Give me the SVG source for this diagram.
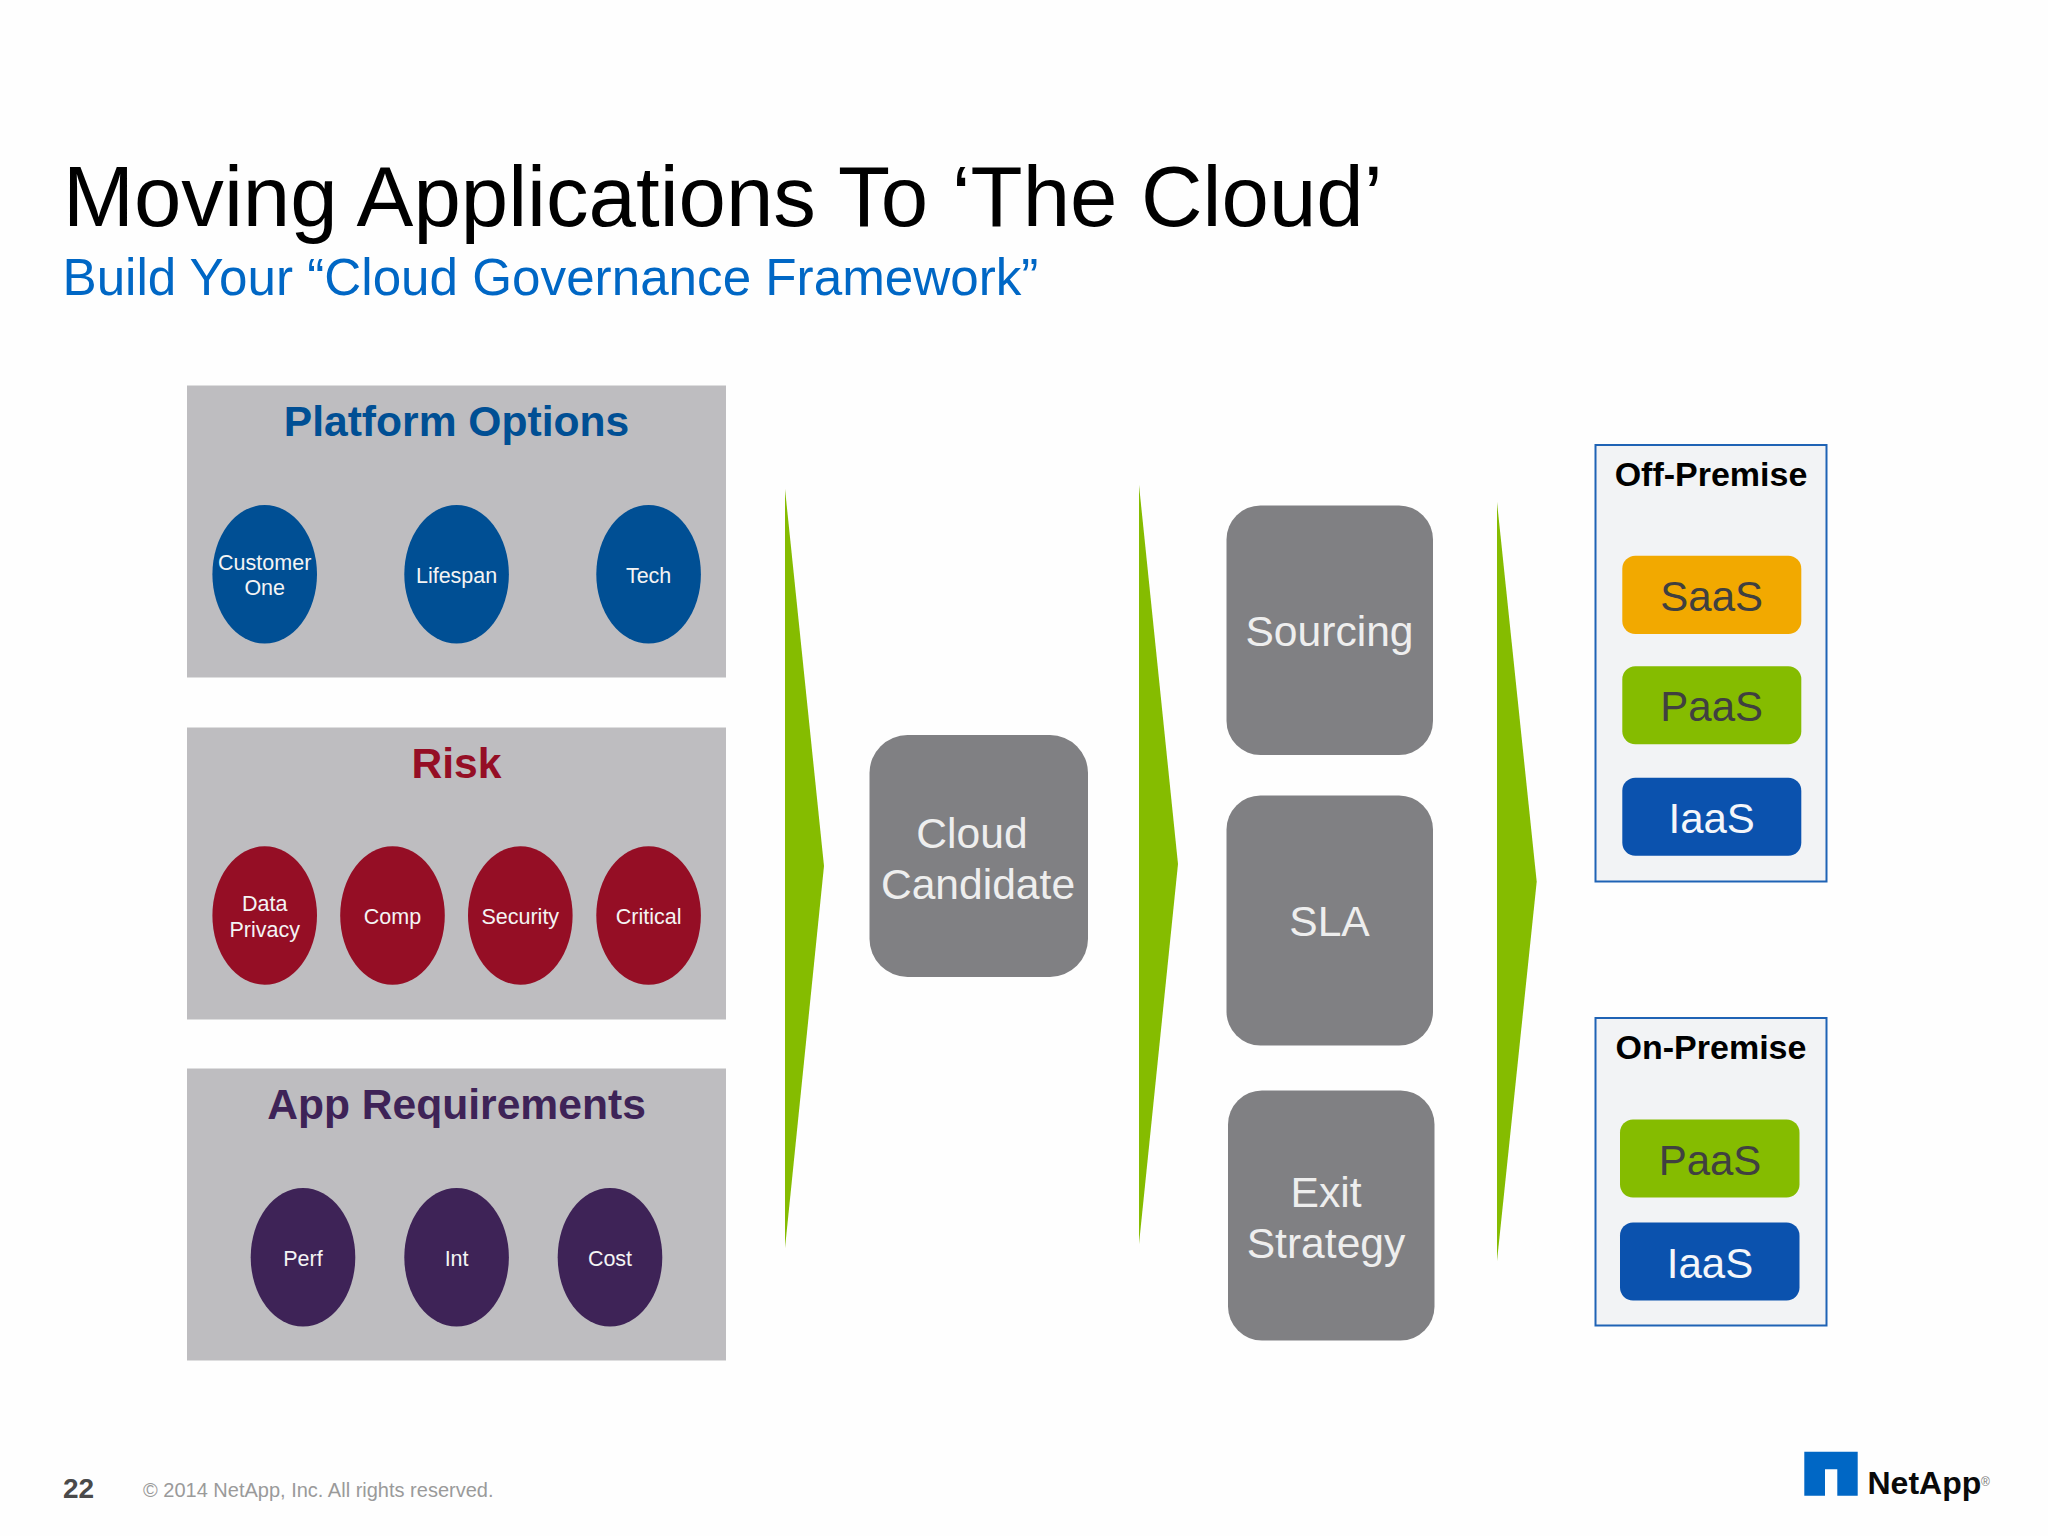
<svg xmlns="http://www.w3.org/2000/svg" width="2048" height="1536" viewBox="0 0 2048 1536">
<style>
text{font-family:"Liberation Sans",Arial,sans-serif;text-anchor:middle}
.panel{fill:#bebdc0}
.ph{font-size:42.6px;font-weight:bold}
.ct{font-size:21.5px;fill:#f4f4f4}
.blue{fill:#004f94}.red{fill:#950e25}.pur{fill:#3e2357}
.arrow{fill:#85bc00}
.gray{fill:#808083}
.gt{font-size:42.6px;fill:#eeeeee}
.frame{fill:#f2f3f5;stroke:#1f63b5;stroke-width:2}
.ft{font-size:34px;font-weight:bold;fill:#000}
.st{font-size:42px;fill:#404040}
.sw{font-size:42px;fill:#f4f6fa}
.orange{fill:#f2a900}.green{fill:#85bc00}.navy{fill:#0b52ae}
</style>
<rect width="2048" height="1536" fill="#fefefe"/>
<g id="header">
<text x="63" y="225.5" font-size="85.2" style="text-anchor:start" fill="#000">Moving Applications To ‘The Cloud’</text>
<text x="62.5" y="294.5" font-size="51.2" style="text-anchor:start" fill="#0067c5">Build Your “Cloud Governance Framework”</text>
</g>
<g id="connectors">
<polygon class="arrow" points="785,489 824,866 785,1248"/>
<polygon class="arrow" points="1139,485 1178,864 1139,1244"/>
<polygon class="arrow" points="1497,502 1536.7,881.7 1497,1261"/>
</g>
<g id="platform-options">
<rect class="panel" x="187" y="385.5" width="539" height="292"/>
<text class="ph" x="456.5" y="436" fill="#004f94">Platform Options</text>
<ellipse class="blue" cx="264.7" cy="574.3" rx="52.3" ry="69.3"/>
<text class="ct" x="264.7" y="570">Customer</text><text class="ct" x="264.7" y="595">One</text>
<ellipse class="blue" cx="456.6" cy="574.3" rx="52.3" ry="69.3"/>
<text class="ct" x="456.6" y="582.5">Lifespan</text>
<ellipse class="blue" cx="648.6" cy="574.3" rx="52.3" ry="69.3"/>
<text class="ct" x="648.6" y="582.5">Tech</text>
</g>
<g id="risk">
<rect class="panel" x="187" y="727.5" width="539" height="292"/>
<text class="ph" x="456.5" y="778" fill="#950e25">Risk</text>
<ellipse class="red" cx="264.7" cy="915.5" rx="52.3" ry="69.3"/>
<text class="ct" x="264.7" y="911">Data</text><text class="ct" x="264.7" y="937">Privacy</text>
<ellipse class="red" cx="392.5" cy="915.5" rx="52.3" ry="69.3"/>
<text class="ct" x="392.5" y="923.5">Comp</text>
<ellipse class="red" cx="520.3" cy="915.5" rx="52.3" ry="69.3"/>
<text class="ct" x="520.3" y="923.5">Security</text>
<ellipse class="red" cx="648.6" cy="915.5" rx="52.3" ry="69.3"/>
<text class="ct" x="648.6" y="923.5">Critical</text>
</g>
<g id="app-requirements">
<rect class="panel" x="187" y="1068.5" width="539" height="292"/>
<text class="ph" x="456.5" y="1119" fill="#3e2357">App Requirements</text>
<ellipse class="pur" cx="303" cy="1257.3" rx="52.3" ry="69.3"/>
<text class="ct" x="303" y="1266">Perf</text>
<ellipse class="pur" cx="456.6" cy="1257.3" rx="52.3" ry="69.3"/>
<text class="ct" x="456.6" y="1266">Int</text>
<ellipse class="pur" cx="610" cy="1257.3" rx="52.3" ry="69.3"/>
<text class="ct" x="610" y="1266">Cost</text>
</g>
<g id="cloud-candidate">
<rect class="gray" x="869.5" y="735" width="218.5" height="242" rx="38"/>
<text class="gt" x="972" y="847.5">Cloud</text><text class="gt" x="978" y="898.5">Candidate</text>
</g>
<g id="sourcing">
<rect class="gray" x="1226.5" y="505.5" width="206.5" height="249.5" rx="34"/>
<text class="gt" x="1329.5" y="646">Sourcing</text>
</g>
<g id="sla">
<rect class="gray" x="1226.5" y="795.5" width="206.5" height="250" rx="34"/>
<text class="gt" x="1329.5" y="936">SLA</text>
</g>
<g id="exit-strategy">
<rect class="gray" x="1228" y="1090.5" width="206.5" height="250" rx="34"/>
<text class="gt" x="1326" y="1207">Exit</text><text class="gt" x="1326" y="1258">Strategy</text>
</g>
<g id="off-premise">
<rect class="frame" x="1595.5" y="445" width="231" height="436.5"/>
<text class="ft" x="1711" y="485.7">Off-Premise</text>
<rect class="orange" x="1622.3" y="555.7" width="179" height="78.3" rx="13"/>
<text class="st" x="1711.7" y="610.7">SaaS</text>
<rect class="green" x="1622.3" y="666.3" width="179" height="78" rx="13"/>
<text class="st" x="1711.7" y="721">PaaS</text>
<rect class="navy" x="1622.3" y="777.7" width="179" height="78" rx="13"/>
<text class="sw" x="1711.7" y="832.5">IaaS</text>
</g>
<g id="on-premise">
<rect class="frame" x="1595.5" y="1018" width="231" height="307.5"/>
<text class="ft" x="1711" y="1059">On-Premise</text>
<rect class="green" x="1620" y="1119.5" width="179.5" height="78" rx="13"/>
<text class="st" x="1710" y="1174.5">PaaS</text>
<rect class="navy" x="1620" y="1222.5" width="179.5" height="78" rx="13"/>
<text class="sw" x="1710" y="1277.5">IaaS</text>
</g>
<g id="footer">
<text x="63" y="1498" font-size="28" font-weight="bold" style="text-anchor:start" fill="#4a4a4a">22</text>
<text x="143" y="1496.5" font-size="20" style="text-anchor:start" fill="#9a9a9a">© 2014 NetApp, Inc. All rights reserved.</text>
</g>
<g id="logo">
<path fill="#0067c5" fill-rule="evenodd" d="M1804.3 1451.7H1857.7V1495.7H1837.3V1469.3H1825V1495.7H1804.3Z"/>
<text x="1867.5" y="1494" font-size="32" font-weight="bold" style="text-anchor:start" fill="#0a0a0a">NetApp</text>
<text x="1981" y="1486" font-size="12" style="text-anchor:start" fill="#777">®</text>
</g>
</svg>
